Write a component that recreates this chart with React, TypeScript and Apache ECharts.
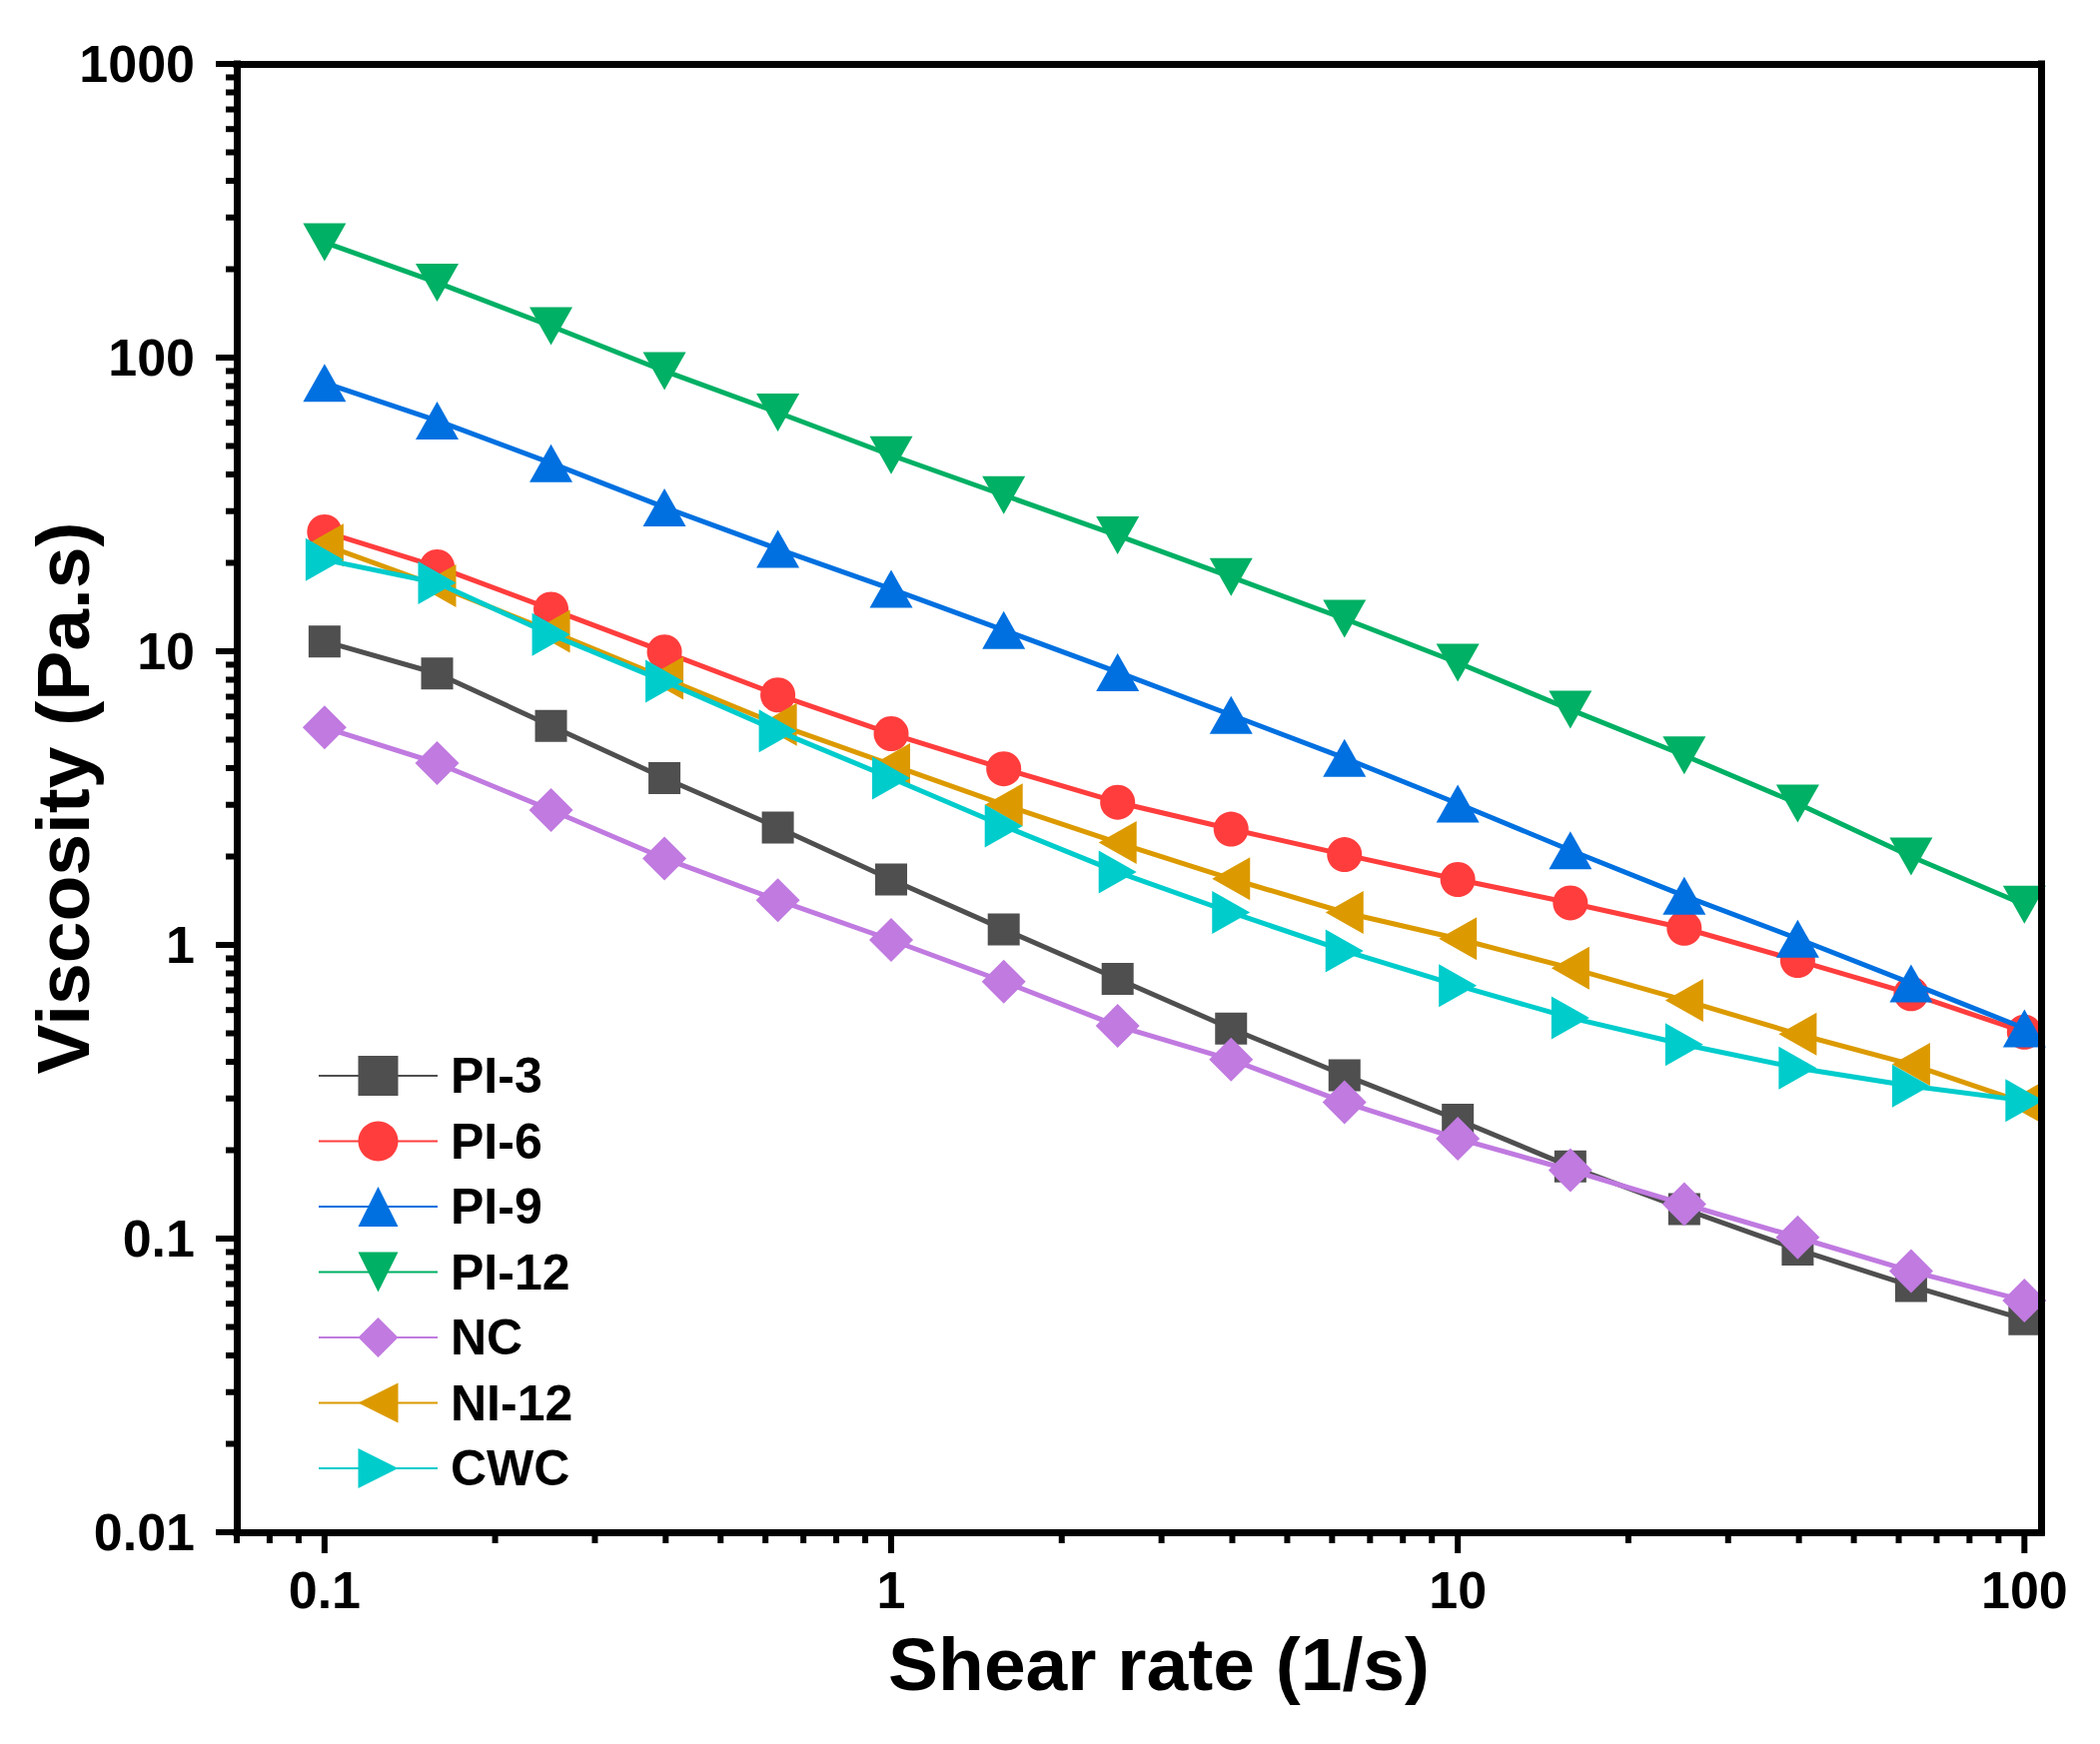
import React, { useEffect, useRef } from "react";
import * as echarts from "echarts";

const shearRate = [0.1, 0.158, 0.251, 0.398, 0.631, 1, 1.58, 2.51, 3.98, 6.31, 10, 15.8, 25.1, 39.8, 63.1, 100];

const pi3 = [10.8, 8.4, 5.57, 3.7, 2.51, 1.67, 1.13, 0.766, 0.519, 0.36, 0.254, 0.176, 0.126, 0.0918, 0.069, 0.0531];
const pi6 = [25.5, 19.4, 13.9, 9.95, 7.1, 5.24, 3.98, 3.06, 2.48, 2.03, 1.67, 1.39, 1.14, 0.885, 0.682, 0.505];
const pi9 = [82, 61, 43.7, 30.9, 22.3, 16.3, 11.8, 8.49, 6.07, 4.33, 3.03, 2.1, 1.47, 1.05, 0.74, 0.52];
const pi12 = [247, 180, 128, 90, 65, 46.5, 34, 24.8, 17.9, 12.9, 9.14, 6.33, 4.42, 3.03, 2.0, 1.37];
const nc = [5.5, 4.16, 2.88, 1.97, 1.42, 1.04, 0.75, 0.53, 0.407, 0.291, 0.219, 0.171, 0.131, 0.101, 0.0775, 0.0615];
const ni12 = [23, 16.7, 11.7, 8.1, 5.63, 4.11, 3.0, 2.23, 1.68, 1.29, 1.05, 0.834, 0.648, 0.497, 0.392, 0.29];
const cwc = [20.5, 17.1, 11.4, 7.9, 5.35, 3.7, 2.54, 1.77, 1.29, 0.955, 0.727, 0.565, 0.458, 0.381, 0.331, 0.295];

const seriesNames = ["PI-3", "PI-6", "PI-9", "PI-12", "NC", "NI-12", "CWC"];
const seriesValues = [pi3, pi6, pi9, pi12, nc, ni12, cwc];
const seriesColors = ["#4f4f4f", "#ff3d3d", "#0070e0", "#00b064", "#c07ae0", "#dc9a00", "#00cccc"];
const seriesSymbols = ["rect", "circle", "triangle", "triangle", "diamond", "triangle", "triangle"];
const seriesRotate = [0, 0, 0, 180, 0, 90, -90];
const seriesSymbolSize: (number | number[])[] = [32, 35, [43, 38], [43, 38], [44, 44], [43, 38], [43, 38]];

const xMin = 0.07;
const xMax = 107;
const yMin = 0.01;
const yMax = 1000;

const xTickLabels: Record<string, string> = { "-1": "0.1", "0": "1", "1": "10", "2": "100" };
const yTickLabels: Record<string, string> = { "-2": "0.01", "-1": "0.1", "0": "1", "1": "10", "2": "100", "3": "1000" };

const xMajorTicks = [0.1, 1, 10, 100];
const yMajorTicks = [0.01, 0.1, 1, 10, 100, 1000];
const xMinorDecades = [0.01, 0.1, 1, 10];
const yMinorDecades = [0.01, 0.1, 1, 10, 100];
const minorMultipliers = [2, 3, 4, 5, 6, 7, 8, 9];

const xTitle = "Shear rate (1/s)";
const yTitle = "Viscosity (Pa.s)";

const FONT = "'Liberation Sans', Arial, Helvetica, sans-serif";

function minorTicks(decades: number[], lo: number, hi: number): number[] {
  const out: number[] = [];
  decades.forEach((d) => {
    minorMultipliers.forEach((m) => {
      const v = +(m * d).toPrecision(6);
      if (v >= lo * 0.999 && v <= hi) out.push(v);
    });
  });
  return out;
}

function decadeLabel(map: Record<string, string>) {
  return (v: number) => {
    const lg = Math.log10(v);
    const e = Math.round(lg);
    if (Math.abs(lg - e) < 1e-6 && map[String(e)] !== undefined) return map[String(e)];
    return "";
  };
}

function tickSeries(values: number[], dir: "x" | "y", len: number) {
  return {
    type: "custom",
    coordinateSystem: "cartesian2d",
    xAxisIndex: 0,
    yAxisIndex: 0,
    silent: true,
    z: 20,
    clip: false,
    data: values.map((v) => (dir === "x" ? [v, 1] : [1, v])),
    renderItem: (params: any, api: any) => {
      const cs = params.coordSys;
      const p = api.coord([api.value(0), api.value(1)]);
      if (dir === "x") {
        const yb = cs.y + cs.height;
        return {
          type: "line",
          shape: { x1: p[0], y1: yb, x2: p[0], y2: yb + len },
          style: { stroke: "#000", lineWidth: 6 },
        };
      }
      const xl = cs.x;
      return {
        type: "line",
        shape: { x1: xl, y1: p[1], x2: xl - len, y2: p[1] },
        style: { stroke: "#000", lineWidth: 6 },
      };
    },
  };
}

export default function App() {
  const ref = useRef<HTMLDivElement>(null);

  useEffect(() => {
    if (!ref.current) return;
    const chart = echarts.init(ref.current, undefined, { renderer: "svg" });

    const lineSeries = seriesNames.map((name, i) => ({
      name,
      type: "line",
      xAxisIndex: 0,
      yAxisIndex: 0,
      data: shearRate.map((x, j) => [x, seriesValues[i][j]]),
      symbol: seriesSymbols[i],
      symbolRotate: seriesRotate[i],
      symbolSize: seriesSymbolSize[i],
      showSymbol: true,
      color: seriesColors[i],
      lineStyle: { color: seriesColors[i], width: 5 },
      itemStyle: { color: seriesColors[i] },
      z: 3 + i,
      clip: true,
    }));

    const axisLineStyle = { color: "#000", width: 7, cap: "square" };

    const option: any = {
      animation: false,
      backgroundColor: "#ffffff",
      grid: {
        left: 237,
        right: 59,
        top: 64,
        bottom: 212,
        containLabel: false,
        outerBoundsMode: "none",
      },
      legend: {
        data: seriesNames,
        orient: "vertical",
        left: 313,
        top: 1047,
        itemWidth: 119,
        itemHeight: 50,
        itemGap: 15.5,
        selectedMode: false,
        textStyle: { fontSize: 50, fontWeight: "bold", fontFamily: FONT, color: "#000", padding: [0, 0, 0, 8] },
      },
      xAxis: [
        {
          type: "log",
          logBase: 10,
          min: xMin,
          max: xMax,
          position: "bottom",
          name: xTitle,
          nameLocation: "middle",
          nameGap: 94,
          nameMoveOverlap: false,
          nameTextStyle: { fontSize: 75, fontWeight: "bold", fontFamily: FONT, color: "#000", padding: [0, 0, 0, 40] },
          axisLine: { show: true, onZero: false, lineStyle: axisLineStyle },
          axisTick: { show: false },
          splitLine: { show: false },
          minorTick: { show: false },
          axisLabel: {
            show: true,
            margin: 32,
            fontSize: 52,
            fontWeight: "bold",
            fontFamily: FONT,
            color: "#000",
            formatter: decadeLabel(xTickLabels),
          },
          z: 10,
        },
        {
          type: "value",
          min: 0,
          max: 1,
          position: "top",
          axisLine: { show: true, onZero: false, lineStyle: axisLineStyle },
          axisTick: { show: false },
          axisLabel: { show: false },
          splitLine: { show: false },
          z: 10,
        },
      ],
      yAxis: [
        {
          type: "log",
          logBase: 10,
          min: yMin,
          max: yMax,
          position: "left",
          name: yTitle,
          nameLocation: "middle",
          nameGap: 137,
          nameRotate: 90,
          nameMoveOverlap: false,
          nameTextStyle: { fontSize: 75, fontWeight: "bold", fontFamily: FONT, color: "#000" },
          axisLine: { show: true, onZero: false, lineStyle: axisLineStyle },
          axisTick: { show: false },
          splitLine: { show: false },
          minorTick: { show: false },
          axisLabel: {
            show: true,
            margin: 42,
            fontSize: 52,
            fontWeight: "bold",
            fontFamily: FONT,
            color: "#000",
            formatter: decadeLabel(yTickLabels),
          },
          z: 10,
        },
        {
          type: "value",
          min: 0,
          max: 1,
          position: "right",
          axisLine: { show: true, onZero: false, lineStyle: axisLineStyle },
          axisTick: { show: false },
          axisLabel: { show: false },
          splitLine: { show: false },
          z: 10,
        },
      ],
      series: [
        ...lineSeries,
        tickSeries(xMajorTicks, "x", 21),
        tickSeries(minorTicks(xMinorDecades, xMin, xMax), "x", 11),
        tickSeries(yMajorTicks, "y", 21),
        tickSeries(minorTicks(yMinorDecades, yMin, yMax), "y", 11),
      ],
    };

    chart.setOption(option);
    return () => chart.dispose();
  }, []);

  return (
    <div
      ref={ref}
      style={{ position: "fixed", left: 0, top: 0, width: 2102, height: 1746, background: "#fff" }}
    />
  );
}
